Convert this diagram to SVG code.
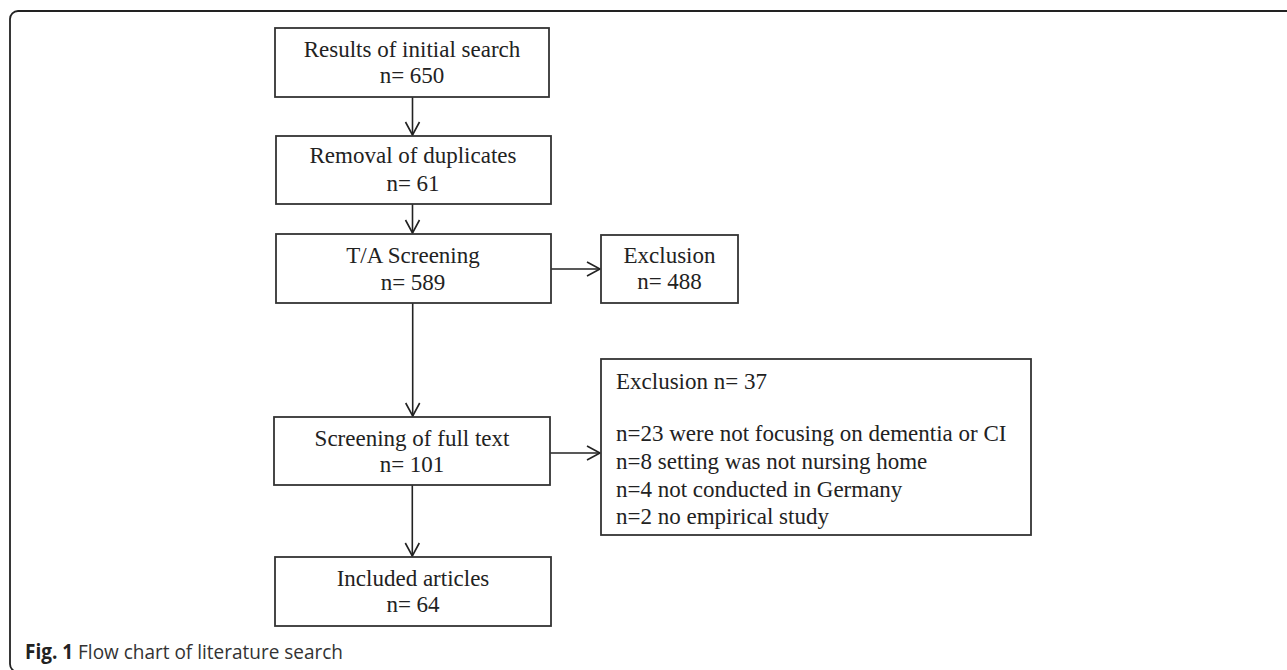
<svg xmlns="http://www.w3.org/2000/svg" width="1287" height="670" viewBox="0 0 1287 670">
<style>
.box{fill:#fff;stroke:#333;stroke-width:1.8}
.t{font-family:"Liberation Serif","Times New Roman",serif;font-size:23px;fill:#222}
.c{text-anchor:middle}
.edge{stroke:#222;stroke-width:1.6;fill:none;marker-end:url(#arr)}
.cap{font-family:"Open Sans","Noto Sans",sans-serif;font-size:20.5px;fill:#333}
</style>
<defs>
<marker id="arr" markerUnits="userSpaceOnUse" markerWidth="18" markerHeight="18" viewBox="-15 -9 18 18" refX="0" refY="0" orient="auto">
<path d="M-13,-7 L0,0 L-13,7" fill="none" stroke="#222" stroke-width="1.6"/>
</marker>
</defs>
<path d="M1290,11 H18 A8,8 0 0 0 10,19 V664 A8,8 0 0 0 18,672 H1290" fill="none" stroke="#222" stroke-width="1.8"/>
<g id="connectors">
<line class="edge" x1="412.5" y1="97" x2="412.5" y2="135"/>
<line class="edge" x1="412.5" y1="204" x2="412.5" y2="233"/>
<line class="edge" x1="551" y1="269" x2="600" y2="269"/>
<line class="edge" x1="412.7" y1="303" x2="412.7" y2="416"/>
<line class="edge" x1="550" y1="453" x2="600" y2="453"/>
<line class="edge" x1="412.3" y1="485" x2="412.3" y2="556"/>
</g>
<g id="n1">
<rect class="box" x="275" y="28" width="274" height="69"/>
<text class="t c" x="412" y="57">Results of initial search</text>
<text class="t c" x="412" y="83">n= 650</text>
</g>
<g id="n2">
<rect class="box" x="276" y="136" width="275" height="68"/>
<text class="t c" x="413" y="163">Removal of duplicates</text>
<text class="t c" x="413" y="191">n= 61</text>
</g>
<g id="n3">
<rect class="box" x="276" y="234" width="275" height="69"/>
<text class="t c" x="413" y="263">T/A Screening</text>
<text class="t c" x="413" y="290">n= 589</text>
</g>
<g id="n4">
<rect class="box" x="601" y="235" width="137" height="68"/>
<text class="t c" x="669.5" y="263">Exclusion</text>
<text class="t c" x="669.5" y="289">n= 488</text>
</g>
<g id="n5">
<rect class="box" x="274" y="417" width="276" height="68"/>
<text class="t c" x="412" y="446">Screening of full text</text>
<text class="t c" x="412" y="472">n= 101</text>
</g>
<g id="n6">
<rect class="box" x="601" y="359" width="430" height="176"/>
<text class="t" x="616" y="389">Exclusion n= 37</text>
<text class="t" x="616" y="441">n=23 were not focusing on dementia or CI</text>
<text class="t" x="616" y="469">n=8 setting was not nursing home</text>
<text class="t" x="616" y="497">n=4 not conducted in Germany</text>
<text class="t" x="616" y="524">n=2 no empirical study</text>
</g>
<g id="n7">
<rect class="box" x="275" y="557" width="276" height="69"/>
<text class="t c" x="413" y="586">Included articles</text>
<text class="t c" x="413" y="612">n= 64</text>
</g>
<text class="cap" x="25" y="659" textLength="318" lengthAdjust="spacingAndGlyphs"><tspan font-weight="bold" fill="#222">Fig. 1</tspan> Flow chart of literature search</text>
</svg>
